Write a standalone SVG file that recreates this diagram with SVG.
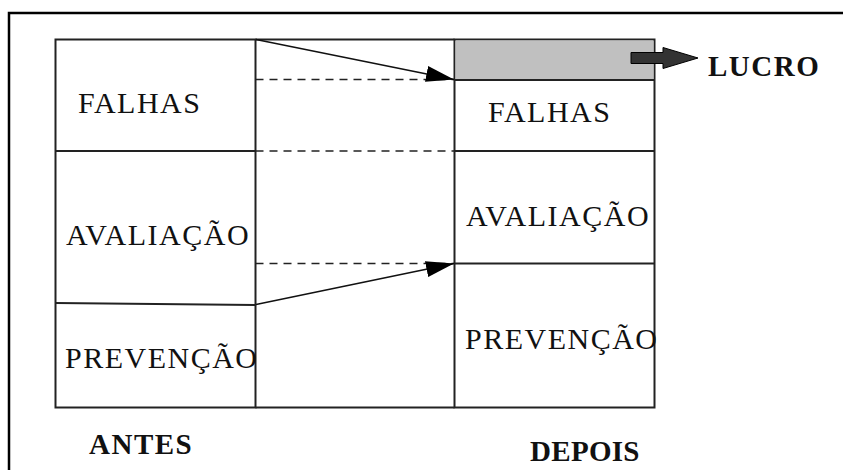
<svg xmlns="http://www.w3.org/2000/svg" width="843" height="470" viewBox="0 0 843 470">
<defs>
<style>
.ln{stroke:#222;stroke-width:2;fill:none}
.dash{stroke:#222;stroke-width:1.3;stroke-dasharray:8 6;fill:none}
.t{font-family:"Liberation Serif","Times New Roman",serif;font-size:30px;letter-spacing:1.5px;fill:#111}
.b{font-family:"Liberation Serif","Times New Roman",serif;font-size:29px;font-weight:bold;letter-spacing:1.5px;fill:#111}
</style>
<marker id="ah" viewBox="0 0 28 16" refX="28" refY="8" markerWidth="28" markerHeight="16" markerUnits="userSpaceOnUse" orient="auto">
<path d="M0,0 L28,8 L0,16 Z" fill="#000"/>
</marker>
</defs>
<rect width="843" height="470" fill="#fff"/>
<path d="M9,480 V13 H850" fill="none" stroke="#000" stroke-width="2.5"/>
<g id="antes">
<rect x="55.5" y="39.5" width="200" height="368" class="ln"/>
<line x1="55.5" y1="151" x2="255.5" y2="151" class="ln"/>
<line x1="55.5" y1="303" x2="255.5" y2="305" class="ln"/>
<text class="t" x="78" y="113">FALHAS</text>
<text class="t" x="66" y="245">AVALIAÇÃO</text>
<text class="t" x="65" y="368">PREVENÇÃO</text>
<text class="b" x="89" y="454">ANTES</text>
</g>
<g id="meio">
<line x1="255.5" y1="39.5" x2="454.5" y2="39.5" class="ln"/>
<line x1="255.5" y1="407.5" x2="454.5" y2="407.5" class="ln"/>
</g>
<g id="depois">
<rect x="454.5" y="39.5" width="200" height="368" class="ln"/>
<rect x="455.5" y="40.5" width="198" height="39" fill="#c0c0c0"/>
<line x1="454.5" y1="80" x2="654.5" y2="80" class="ln"/>
<line x1="454.5" y1="151" x2="654.5" y2="151" class="ln"/>
<line x1="454.5" y1="263.5" x2="654.5" y2="263.5" class="ln"/>
<text class="t" x="488" y="122">FALHAS</text>
<text class="t" x="466" y="226">AVALIAÇÃO</text>
<text class="t" x="465" y="349">PREVENÇÃO</text>
<text class="b" x="530" y="461" style="letter-spacing:0.3px">DEPOIS</text>
</g>
<g id="lucro">
<path d="M631,52.5 H663 V47.5 L698,58 L663,68.5 V63.5 H631 Z" fill="#333" stroke="#000" stroke-width="1"/>
<text class="b" x="708" y="76">LUCRO</text>
</g>
<g id="connectors">
<line x1="255.5" y1="79.5" x2="454" y2="79.5" class="dash"/>
<line x1="255.5" y1="151" x2="454" y2="151" class="dash"/>
<line x1="255.5" y1="263.5" x2="454" y2="263.5" class="dash"/>
<line x1="256" y1="39.5" x2="454" y2="79.5" stroke="#111" stroke-width="1.5" marker-end="url(#ah)"/>
<line x1="256" y1="304.5" x2="454" y2="263.5" stroke="#111" stroke-width="1.5" marker-end="url(#ah)"/>
</g>
</svg>
